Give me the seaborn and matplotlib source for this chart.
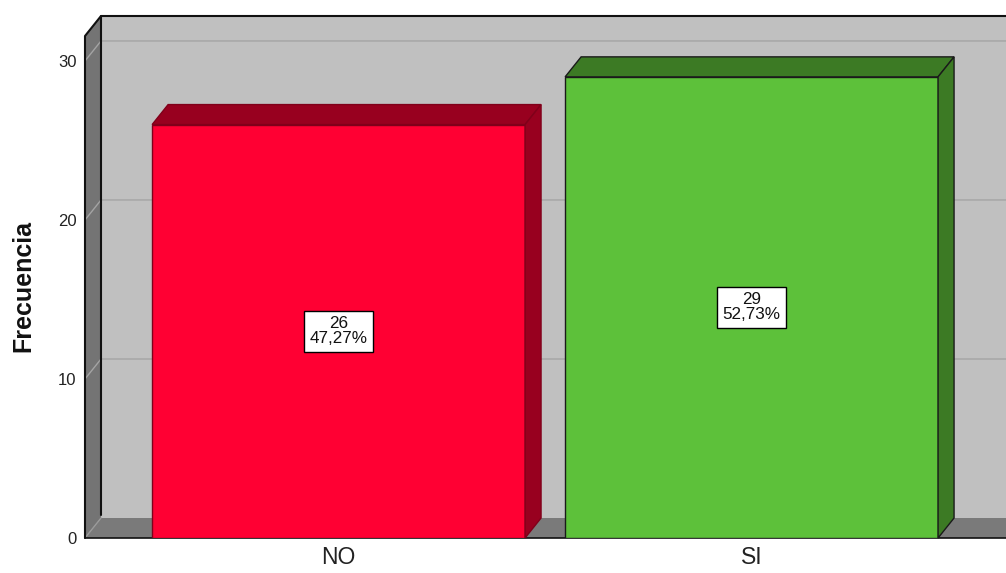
import matplotlib
matplotlib.use("Agg")
import matplotlib.pyplot as plt
import matplotlib.transforms as mtransforms
from matplotlib.patches import Polygon
from matplotlib.lines import Line2D
import seaborn as sns

# Datos
categorias = ["NO", "SI"]
frecuencias = [26, 29]
porcentajes = ["47,27%", "52,73%"]
ticks_y = [0, 10, 20, 30]

# Colores (frente / caras oscuras / borde)
colores_frente = ["#ff0033", "#5dc13a"]
colores_lado = ["#98001f", "#3c7a24"]
bordes = ["#80001a", "#1a1a1a"]

sns.set_style("white")
plt.rcParams['font.family'] = ['Liberation Sans', 'DejaVu Sans']

DX, DY = 16, 20  # profundidad 3D en pixeles

fig = plt.figure(figsize=(10.06, 5.73), dpi=100)
ax = fig.add_axes([85 / 1006, 35 / 573, 921 / 1006, 502 / 573])

sns.barplot(x=categorias, y=frecuencias, hue=categorias, palette=colores_frente,
            saturation=1, width=0.903, legend=False, ax=ax)
barras = list(ax.patches)

ax.set_xlim(-0.614, 1.616)
ax.set_ylim(0, 31.57)
ax.set_facecolor("none")
for s in ax.spines.values():
    s.set_visible(False)

T = ax.transData
ident = mtransforms.IdentityTransform()
x0, x1 = ax.get_xlim()
lx, by = T.transform((x0, 0))
rx, ty = T.transform((x1, ax.get_ylim()[1]))


def poly(pts, fc, z, ec="none", lw=0):
    ax.add_patch(Polygon(pts, closed=True, facecolor=fc, edgecolor=ec, linewidth=lw,
                         transform=ident, clip_on=False, zorder=z))


def linea(xs, ys, color, lw, z):
    ax.add_line(Line2D(xs, ys, color=color, linewidth=lw, transform=ident,
                       clip_on=False, zorder=z))


# paredes y piso
poly([(lx + DX, by + DY), (rx + DX, by + DY), (rx + DX, ty + DY), (lx + DX, ty + DY)], "#c0c0c0", 0.1)
poly([(lx, by), (lx, ty), (lx + DX, ty + DY), (lx + DX, by + DY)], "#747474", 0.2)
poly([(lx, by), (rx, by), (rx + DX, by + DY), (lx + DX, by + DY)], "#7a7a7a", 0.2)

# lineas de cuadricula
for v in ticks_y[1:]:
    yy = T.transform((0, v))[1]
    linea([lx, lx + DX, rx + DX], [yy, yy + DY, yy + DY], "#a4a4a4", 1, 0.3)
linea([lx, lx + DX], [by, by + DY], "#9a9a9a", 1, 0.3)

# bordes
linea([lx, lx, lx + DX, rx + DX], [by, ty, ty + DY, ty + DY], "#111111", 1.5, 0.4)
linea([lx + DX, lx + DX], [ty + DY, by + DY + 3], "#111111", 1.5, 0.4)
linea([lx, rx], [by, by], "#111111", 1.2, 0.4)

# barras 3D
for i, p in enumerate(barras):
    p.set_edgecolor(bordes[i])
    p.set_linewidth(1)
    p.set_zorder(2)
    bx0, bb = T.transform((p.get_x(), 0))
    bx1, bt = T.transform((p.get_x() + p.get_width(), p.get_height()))
    poly([(bx0, bt), (bx1, bt), (bx1 + DX, bt + DY), (bx0 + DX, bt + DY)],
         colores_lado[i], 2.1, bordes[i], 1)
    poly([(bx1, bb), (bx1, bt), (bx1 + DX, bt + DY), (bx1 + DX, bb + DY)],
         colores_lado[i], 2.1, bordes[i], 1)
    ax.text(p.get_x() + p.get_width() / 2, p.get_height() / 2,
            f"{frecuencias[i]}\n{porcentajes[i]}", ha="center", va="center",
            fontsize=12.3, linespacing=1.0, color="#111111", zorder=5,
            bbox=dict(boxstyle="square,pad=0.33", fc="white", ec="black", lw=1))

ax.set_yticks(ticks_y)
ax.tick_params(axis="both", length=0)
ax.tick_params(axis="y", labelsize=12, pad=6, labelcolor="#222222")
ax.tick_params(axis="x", labelsize=16.5, pad=5.5, labelcolor="#222222")
ax.set_xlabel("")
ax.set_ylabel("")

fig.text(23 / 1006, 1 - 286 / 573, "Frecuencia", rotation=90, ha="center", va="center",
         fontsize=18, fontweight="bold", color="#111111")

fig.savefig("out.png", dpi=100)
